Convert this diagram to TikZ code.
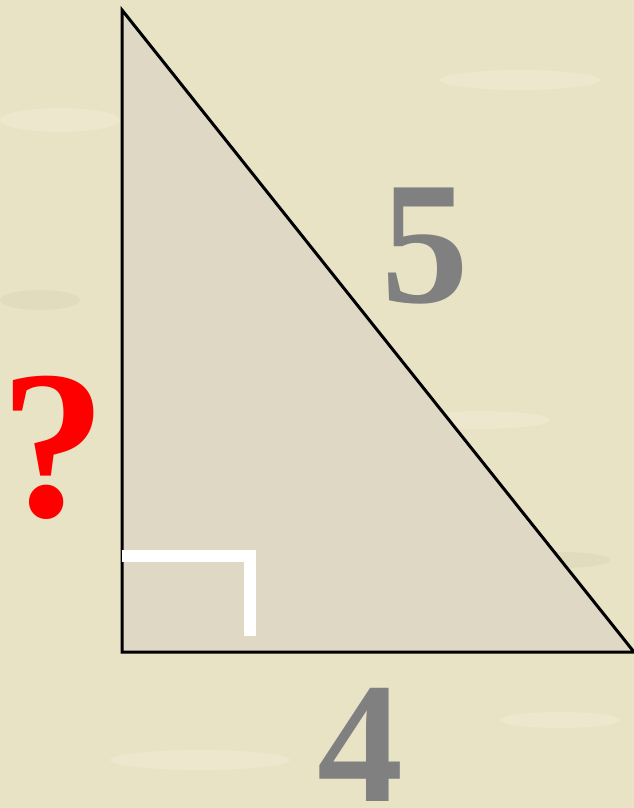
\documentclass[tikz,border=0pt]{standalone}
\usepackage{fontspec}
\setmainfont{Liberation Serif}
\definecolor{bgc}{HTML}{E9E3C5}
\definecolor{trifill}{HTML}{DFD8C5}
\definecolor{numgray}{HTML}{808080}
\begin{document}
\begin{tikzpicture}[x=1pt,y=-1pt,
  lbl/.style={anchor=base,inner sep=0pt,text depth=0pt,font=\bfseries\fontsize{175}{175}\selectfont,text=numgray},
  qlbl/.style={anchor=base,inner sep=0pt,text depth=0pt,font=\bfseries\fontsize{212}{212}\selectfont,text=red},
  marker/.style={draw=white,line width=12pt}]
\useasboundingbox (0,0) rectangle (634,808);
\fill[bgc] (0,0) rectangle (634,808);
\begin{scope}[opacity=0.2]
  \fill[white!70!bgc] (60,120) ellipse (60 and 12);
  \fill[white!70!bgc] (520,80) ellipse (80 and 10);
  \fill[white!70!bgc] (480,420) ellipse (70 and 9);
  \fill[white!70!bgc] (200,760) ellipse (90 and 10);
  \fill[white!70!bgc] (560,720) ellipse (60 and 8);
  \fill[black!15!bgc] (40,300) ellipse (40 and 10);
  \fill[black!15!bgc] (560,560) ellipse (50 and 8);
\end{scope}
\coordinate (A) at (122,10);
\coordinate (B) at (122,652);
\coordinate (C) at (634,652);
\fill[trifill] (A) -- (B) -- (C) -- cycle;
\draw[line width=3pt,line join=miter] (A) -- (B) -- (C) -- cycle;
\coordinate (m1) at (122,556);
\coordinate (m2) at (250,556);
\coordinate (m3) at (250,636);
\draw[marker] (m1) -- (m2);
\draw[marker] (250,550) -- (m3);
\node[lbl] (five) at (425,302) {5};
\node[lbl,font=\bfseries\fontsize{172}{172}\selectfont] (four) at (360,801) {4};
\node[qlbl] (q) at (54,516) {?};
\end{tikzpicture}
\end{document}
